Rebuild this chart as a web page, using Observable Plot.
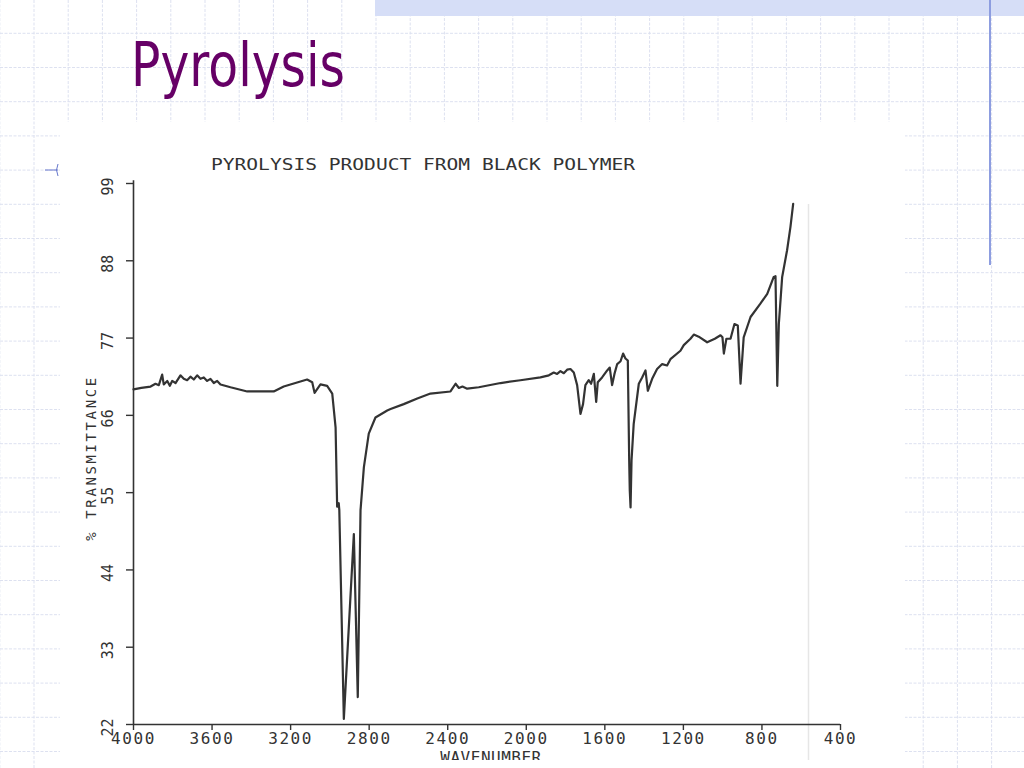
<!DOCTYPE html>
<html><head><meta charset="utf-8">
<script src="https://cdn.jsdelivr.net/npm/d3@7"></script>
<script src="https://cdn.jsdelivr.net/npm/@observablehq/plot@0.6"></script>
<style>
html,body{margin:0;padding:0;background:#fff;}
#slide{position:relative;width:1024px;height:768px;overflow:hidden;}
#bg{position:absolute;left:0;top:0;}
#scan{position:absolute;left:60px;top:122px;width:845px;height:646px;background:#fff;overflow:hidden;}
#scan svg{overflow:hidden;}
</style></head><body>
<div id="slide"><svg id="bg" width="1024" height="768"></svg><div id="scan"></div></div>
<script>
const slideTitle = "Pyrolysis";
const chartTitle = "PYROLYSIS PRODUCT FROM BLACK POLYMER";
const xLabel = "WAVENUMBER";
const yLabel = "% TRANSMITTANCE";
const xTicks = [4000, 3600, 3200, 2800, 2400, 2000, 1600, 1200, 800, 400];
const yTicks = [22, 33, 44, 55, 66, 77, 88, 99];

const wavenumber = [
  4000, 3960, 3913, 3888, 3871, 3854, 3846, 3828, 3815, 3803,
  3786, 3761, 3744, 3727, 3710, 3693, 3676, 3659, 3642, 3625,
  3608, 3591, 3574, 3557, 3506, 3421, 3286, 3235, 3116, 3090,
  3078, 3048, 3014, 2988, 2971, 2963, 2955, 2952, 2929, 2878,
  2858, 2844, 2827, 2802, 2768, 2708, 2691, 2624, 2555, 2488,
  2386, 2360, 2343, 2325, 2301, 2242, 2131, 2030, 1928, 1885,
  1860, 1843, 1826, 1809, 1792, 1775, 1758, 1741, 1724, 1711,
  1699, 1682, 1670, 1656, 1644, 1636, 1614, 1588, 1575, 1563,
  1551, 1537, 1520, 1507, 1495, 1483, 1476, 1473, 1469, 1464,
  1453, 1427, 1410, 1393, 1381, 1359, 1334, 1308, 1283, 1266,
  1215, 1198, 1164, 1147, 1122, 1079, 1040, 1011, 1001, 994,
  981, 960, 940, 923, 909, 893, 858, 808, 773, 740,
  731, 722, 714, 697, 672, 655, 641
];
const transmittance = [
  69.7, 69.9, 70.1, 70.5, 70.3, 71.8, 70.4, 70.9, 70.2, 70.9,
  70.6, 71.7, 71.2, 71.0, 71.5, 71.1, 71.7, 71.2, 71.4, 70.9,
  71.2, 70.6, 70.9, 70.4, 70.0, 69.4, 69.4, 70.1, 71.1, 70.7,
  69.2, 70.4, 70.2, 69.1, 64.3, 53.0, 53.5, 52.5, 22.8, 49.1,
  25.9, 52.5, 58.6, 63.4, 65.7, 66.7, 66.9, 67.6, 68.4, 69.1,
  69.4, 70.5, 69.9, 70.1, 69.8, 70.0, 70.6, 71.0, 71.4, 71.7,
  72.1, 71.9, 72.3, 72.0, 72.5, 72.6, 72.1, 70.3, 66.2, 67.6,
  70.3, 71.0, 70.5, 71.9, 67.9, 70.7, 71.4, 72.4, 72.8, 70.3,
  71.9, 73.3, 73.7, 74.8, 74.1, 73.8, 59.6, 55.3, 52.9, 59.6,
  64.8, 70.5, 71.4, 72.4, 69.5, 71.2, 72.6, 73.3, 73.1, 74.0,
  75.2, 76.0, 76.9, 77.5, 77.2, 76.4, 76.9, 77.4, 77.1, 74.8,
  76.9, 76.9, 79.0, 78.8, 70.5, 77.1, 80.0, 81.9, 83.3, 85.7,
  85.8, 70.2, 79.0, 85.7, 89.5, 92.8, 96.1
];
const scanStreak = [563];

const spectrum = wavenumber.map((w, i) => ({w, t: transmittance[i]}));

// ---- slide background ----
const bg = d3.select("#bg");
bg.append("rect").attr("width", 1024).attr("height", 768).attr("fill", "#fff");
const grid = bg.append("g").attr("stroke", "#dde1f0").attr("stroke-width", 1).attr("stroke-dasharray", "3 1.5");
for (let x = -0.2; x < 1024; x += 34.2) grid.append("line").attr("x1", x).attr("x2", x).attr("y1", 0).attr("y2", 768);
for (let y = 33.3; y < 768; y += 34.2) grid.append("line").attr("x1", 0).attr("x2", 1024).attr("y1", y).attr("y2", y);
bg.append("rect").attr("x", 375).attr("y", 0).attr("width", 649).attr("height", 16).attr("fill", "#d6def7");
bg.append("line").attr("x1", 990).attr("x2", 990).attr("y1", 0).attr("y2", 265).attr("stroke", "#8d9de0").attr("stroke-width", 2);
bg.append("path").attr("d", "M45,170H58M58,164Q55,170 58,176").attr("fill", "none").attr("stroke", "#6677cc").attr("stroke-width", 1);
bg.append("text").attr("x", 131).attr("y", 86).attr("font-family", "DejaVu Sans").attr("font-size", 60)
  .attr("fill", "#660066").attr("textLength", 214).attr("lengthAdjust", "spacingAndGlyphs").text(slideTitle);

// ---- chart ----
const ink = "#333";
const chart = Plot.plot({
  width: 845, height: 638,
  marginLeft: 73, marginRight: 65, marginTop: 61, marginBottom: 36,
  x: {domain: [4000, 400], axis: null, label: null},
  y: {domain: [22, 99], axis: null, label: null},
  style: {background: "white", fontFamily: "DejaVu Sans Mono", color: ink},
  marks: [
    Plot.ruleX(scanStreak, {y1: 10, y2: 96, stroke: "#e6e6e6", strokeWidth: 1.5}),
    Plot.axisX(xTicks, {anchor: "bottom", label: null, tickSize: 6, tickPadding: 2, fontSize: 16, tickFormat: d => String(d), strokeWidth: 1.4}),
    Plot.axisY(yTicks, {anchor: "left", label: null, tickSize: 7, tickFormat: () => "", strokeWidth: 1.4}),
    Plot.ruleY([22], {stroke: ink, strokeWidth: 1.6}),
    Plot.ruleX([4000], {y1: 22, y2: 99.4, stroke: ink, strokeWidth: 1.6}),
    Plot.text(yTicks, {y: d => d, frameAnchor: "left", dx: -25, dy: 3, rotate: -90, textAnchor: "middle", text: d => String(d), fontSize: 15, fill: ink, className: "ytl"}),
    Plot.text([yLabel], {frameAnchor: "left", dx: -42, dy: 4, rotate: -90, textAnchor: "middle", fontSize: 14, fill: ink, className: "ylab"}),
    Plot.text([chartTitle], {frameAnchor: "top", dx: -64, dy: -14, lineAnchor: "bottom", textAnchor: "middle", fontSize: 15, fill: ink, className: "ctitle"}),
    Plot.text([xLabel], {frameAnchor: "bottom", dx: 4, dy: 27, lineAnchor: "top", textAnchor: "middle", fontSize: 16, fill: ink, className: "xlab"}),
    Plot.line(spectrum, {x: "w", y: "t", stroke: ink, strokeWidth: 2.2, strokeLinejoin: "round", strokeLinecap: "round"})
  ]
});
document.getElementById("scan").appendChild(chart);
const s = d3.select(chart);
s.selectAll("g[aria-label='x-axis tick label'] text").style("letter-spacing", "1.6px");
s.selectAll(".ylab text").style("letter-spacing", "2.6px");
s.selectAll(".xlab text").style("letter-spacing", "0.5px");
s.selectAll(".ctitle text").attr("textLength", 424).attr("lengthAdjust", "spacingAndGlyphs");
</script>
</body></html>
